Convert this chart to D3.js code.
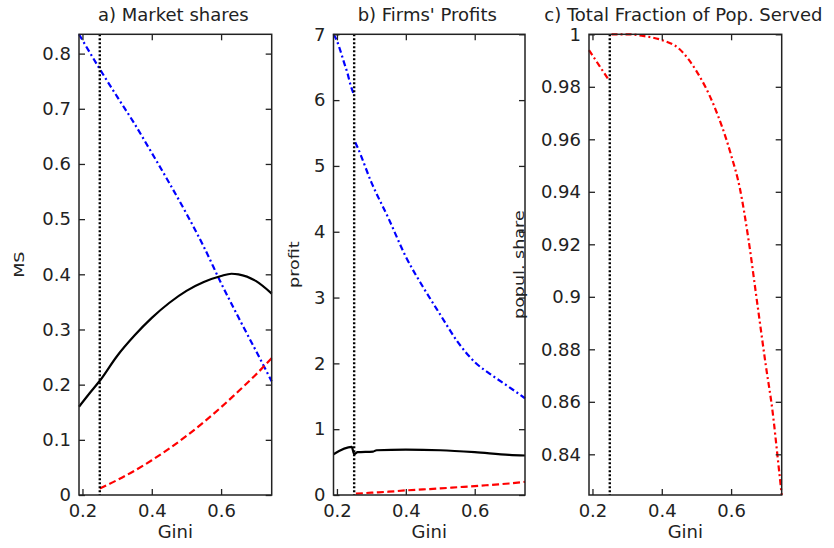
<!DOCTYPE html>
<html>
<head>
<meta charset="utf-8">
<script src="https://cdn.jsdelivr.net/npm/d3@7"></script>
<style>
  body { margin: 0; background: #fff; }
  text { font-family: "DejaVu Sans", sans-serif; fill: #222; }
</style>
</head>
<body>
<svg width="834" height="548"></svg>
<script>

// Gini cutoff drawn as the dotted vertical line
var cutoff = 0.25;
var giniTicks = [0.2, 0.4, 0.6];

// a) Market shares
var msBlueX  = [0.19, 0.25, 0.30, 0.35, 0.40, 0.45, 0.50, 0.55, 0.60, 0.65, 0.70, 0.746];
var msBlueY  = [0.835, 0.772, 0.722, 0.673, 0.620, 0.566, 0.510, 0.450, 0.384, 0.322, 0.262, 0.206];
var msBlackX = [0.19, 0.22, 0.25, 0.30, 0.35, 0.40, 0.45, 0.50, 0.55, 0.60, 0.63, 0.65, 0.70, 0.746];
var msBlackY = [0.160, 0.184, 0.207, 0.252, 0.289, 0.321, 0.348, 0.370, 0.386, 0.397, 0.401, 0.400, 0.388, 0.365];
var msRedX   = [0.25, 0.30, 0.35, 0.40, 0.45, 0.50, 0.55, 0.60, 0.65, 0.70, 0.746];
var msRedY   = [0.012, 0.027, 0.044, 0.063, 0.084, 0.107, 0.132, 0.159, 0.188, 0.218, 0.248];
var msTicks  = [0, 0.1, 0.2, 0.3, 0.4, 0.5, 0.6, 0.7, 0.8];

// b) Firms' profits (blue series breaks at the cutoff)
var prBlue1X = [0.19, 0.20, 0.21, 0.22, 0.23, 0.24, 0.248];
var prBlue1Y = [7.0, 6.9, 6.75, 6.58, 6.42, 6.22, 6.10];
var prBlue2X = [0.253, 0.26, 0.30, 0.35, 0.40, 0.45, 0.50, 0.55, 0.60, 0.65, 0.70, 0.746];
var prBlue2Y = [5.36, 5.28, 4.75, 4.20, 3.62, 3.16, 2.74, 2.33, 2.02, 1.82, 1.64, 1.47];
var prBlackX = [0.19, 0.243, 0.25, 0.26, 0.305, 0.315, 0.40, 0.50, 0.60, 0.70, 0.746];
var prBlackY = [0.62, 0.73, 0.62, 0.65, 0.66, 0.68, 0.69, 0.68, 0.65, 0.61, 0.60];
var prRedX   = [0.255, 0.30, 0.35, 0.40, 0.45, 0.50, 0.55, 0.60, 0.65, 0.70, 0.746];
var prRedY   = [0.02, 0.035, 0.05, 0.07, 0.085, 0.10, 0.118, 0.135, 0.155, 0.175, 0.20];
var prTicks  = [0, 1, 2, 3, 4, 5, 6, 7];

// c) Total fraction of population served
var psRed1X = [0.19, 0.21, 0.23, 0.245];
var psRed1Y = [0.994, 0.990, 0.986, 0.983];
var psRed2X = [0.255, 0.30, 0.35, 0.40, 0.45, 0.50, 0.55, 0.60, 0.625, 0.65, 0.675, 0.70, 0.72, 0.735, 0.746];
var psRed2Y = [1.0, 1.0, 0.9993, 0.9978, 0.9945, 0.986, 0.973, 0.954, 0.9415, 0.922, 0.898, 0.874, 0.856, 0.838, 0.8245];
var psTicks = [0.84, 0.86, 0.88, 0.9, 0.92, 0.94, 0.96, 0.98, 1];

var svg = d3.select("svg");
var plotTop = 34.3, plotBottom = 495;
var fmt = d3.format("~g");

function zip(xs, ys) {
  return xs.map(function(x, i) { return [x, ys[i]]; });
}

var panels = [
  { left: 79, right: 271.7, ymax: 0.835, ymin: 0, ticks: msTicks,
    title: "a) Market shares", ylabel: "MS", labelX: 24,
    series: [
      { d: zip(msBlueX, msBlueY), c: "#0000ff", dash: "6,3,2,3" },
      { d: zip(msBlackX, msBlackY), c: "#000", dash: null },
      { d: zip(msRedX, msRedY), c: "#ff0000", dash: "7,3.5" }
    ] },
  { left: 333.5, right: 525, ymax: 7, ymin: 0, ticks: prTicks,
    title: "b) Firms' Profits", ylabel: "profit", labelX: 298.5,
    series: [
      { d: zip(prBlue1X, prBlue1Y), c: "#0000ff", dash: "6,3,2,3" },
      { d: zip(prBlue2X, prBlue2Y), c: "#0000ff", dash: "6,3,2,3" },
      { d: zip(prBlackX, prBlackY), c: "#000", dash: null },
      { d: zip(prRedX, prRedY), c: "#ff0000", dash: "7,3.5" }
    ] },
  { left: 589, right: 781.7, ymax: 1, ymin: 0.8245, ticks: psTicks,
    title: "c) Total Fraction of Pop. Served", ylabel: "popul. share", labelX: 524,
    series: [
      { d: zip(psRed1X, psRed1Y), c: "#ff0000", dash: "6,3,2,3" },
      { d: zip(psRed2X, psRed2Y), c: "#ff0000", dash: "6,3,2,3" }
    ] }
];

panels.forEach(function(p) {
  var x = d3.scaleLinear().domain([0.19, 0.746]).range([p.left, p.right]);
  var y = d3.scaleLinear().domain([p.ymin, p.ymax]).range([plotBottom, plotTop]);
  var g = svg.append("g");

  // data lines
  var line = d3.line()
    .x(function(d) { return x(d[0]); })
    .y(function(d) { return y(d[1]); })
    .curve(d3.curveMonotoneX);
  p.series.forEach(function(s) {
    g.append("path")
      .attr("d", line(s.d))
      .attr("fill", "none")
      .attr("stroke", s.c)
      .attr("stroke-width", 2.2)
      .attr("stroke-dasharray", s.dash);
  });

  // dotted line at the cutoff
  g.append("line")
    .attr("x1", x(cutoff)).attr("x2", x(cutoff))
    .attr("y1", plotTop).attr("y2", plotBottom)
    .attr("stroke", "#000")
    .attr("stroke-width", 2.4)
    .attr("stroke-dasharray", "2,2");

  // axes, ticks inside like matlab
  var ax = [
    g.append("g").attr("transform", "translate(0," + plotBottom + ")")
      .call(d3.axisBottom(x).tickValues(giniTicks).tickFormat(fmt).tickSizeInner(-6).tickSizeOuter(0).tickPadding(9)),
    g.append("g").attr("transform", "translate(0," + plotTop + ")")
      .call(d3.axisTop(x).tickValues(giniTicks).tickFormat("").tickSizeInner(-6).tickSizeOuter(0)),
    g.append("g").attr("transform", "translate(" + p.left + ",0)")
      .call(d3.axisLeft(y).tickValues(p.ticks).tickFormat(fmt).tickSizeInner(-6).tickSizeOuter(0).tickPadding(8)),
    g.append("g").attr("transform", "translate(" + p.right + ",0)")
      .call(d3.axisRight(y).tickValues(p.ticks).tickFormat("").tickSizeInner(-6).tickSizeOuter(0))
  ];
  ax.forEach(function(a) {
    a.select(".domain").remove();
    a.selectAll("line").attr("stroke", "#222").attr("stroke-width", 1.3);
    a.selectAll("text").attr("font-size", 18).attr("font-family", "DejaVu Sans").attr("fill", "#222");
  });

  // frame
  g.append("rect")
    .attr("x", p.left).attr("y", plotTop)
    .attr("width", p.right - p.left).attr("height", plotBottom - plotTop)
    .attr("fill", "none").attr("stroke", "#222").attr("stroke-width", 1.5);

  // titles and labels
  var mid = (p.left + p.right) / 2;
  g.append("text").text(p.title)
    .attr("x", mid - 2).attr("y", 21)
    .attr("text-anchor", "middle").attr("font-size", 18);
  g.append("text").text("Gini")
    .attr("x", mid).attr("y", 538)
    .attr("text-anchor", "middle").attr("font-size", 18);
  g.append("text").text(p.ylabel)
    .attr("transform", "translate(" + p.labelX + "," + ((plotTop + plotBottom) / 2) + ") rotate(-90) scale(1.3,1)")
    .attr("text-anchor", "middle").attr("font-size", 13.5);
});

</script>
</body>
</html>
